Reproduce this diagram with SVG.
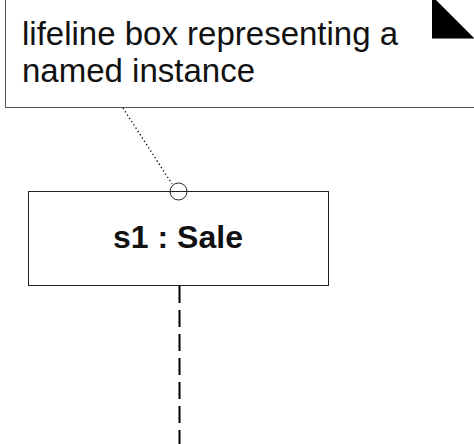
<svg xmlns="http://www.w3.org/2000/svg" width="474" height="444" viewBox="0 0 474 444">
<style>
.note{fill:#fff;stroke:#555;stroke-width:1}
.box{fill:#fff;stroke:#222;stroke-width:1}
.t{font-family:"Liberation Sans",Arial,sans-serif;font-size:33px;fill:#111}
.b{font-family:"Liberation Sans",Arial,sans-serif;font-size:32px;font-weight:bold;fill:#111}
.dot{stroke:#000;stroke-width:1.3;stroke-dasharray:1.3 2.6;fill:none}
.life{stroke:#000;stroke-width:2;stroke-dasharray:17 7;fill:none}
</style>
<rect width="474" height="444" fill="#fff"/>
<g id="note">
<rect class="note" x="5.5" y="-10" width="500" height="117.5"/>
<polygon points="432,0 436,0 474,38 432,38" fill="#000"/>
<line x1="432" y1="38.5" x2="474" y2="38.5" stroke="#777" stroke-width="1"/>
<text class="t" x="22" y="45">lifeline box representing a</text>
<text class="t" x="22" y="82">named instance</text>
</g>
<g id="connectors">
<line class="dot" x1="123" y1="108" x2="172" y2="184"/>
<line class="life" x1="179.5" y1="286" x2="179.5" y2="444"/>
</g>
<g id="lifeline">
<rect class="box" x="28.5" y="191.5" width="300" height="94"/>
<text class="b" x="178" y="248" text-anchor="middle">s1 : Sale</text>
<circle cx="178.5" cy="191.5" r="8.5" fill="none" stroke="#222" stroke-width="1"/>
</g>
</svg>
